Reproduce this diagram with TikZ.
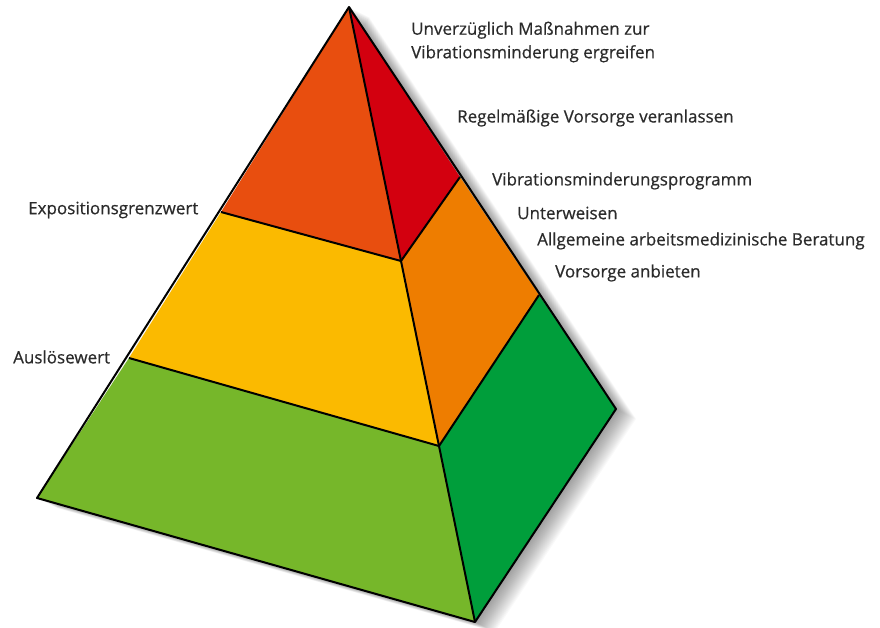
\documentclass[tikz,border=0pt]{standalone}
\usepackage{fontspec}
\setmainfont{Open Sans}[FakeBold=0.6]
\definecolor{cTopL}{HTML}{E84E0F}
\definecolor{cTopR}{HTML}{D3000F}
\definecolor{cMidL}{HTML}{FBBA00}
\definecolor{cMidR}{HTML}{EE7D00}
\definecolor{cBotL}{HTML}{76B72A}
\definecolor{cBotR}{HTML}{009E3B}
\definecolor{txt}{HTML}{2B2B2B}
\begin{document}
\begin{tikzpicture}[x=1pt,y=-1pt,
  face/.style={draw=black,line width=2pt,line join=round},
  lbl/.style={anchor=west,inner sep=0pt,text=txt,font=\fontsize{17}{23.5}\selectfont,align=left}]
\useasboundingbox (0,0) rectangle (880,627);
% key points
\coordinate (A) at (349,7);
\coordinate (L1) at (221,212);
\coordinate (L2) at (129,358);
\coordinate (L3) at (37,498);
\coordinate (M1) at (401,261);
\coordinate (M2) at (439,446);
\coordinate (M3) at (475,622);
\coordinate (R1) at (460,177);
\coordinate (R2) at (539,295);
\coordinate (R3) at (616,409);
% soft shadow
\foreach \i in {1,...,20}{
  \fill[black,opacity=0.022] ([shift={(\i*1.0,\i*0.5)}]A) -- ([shift={(\i*1.0,\i*0.5)}]R3) -- ([shift={(\i*1.0,\i*0.5)}]M3) -- ([shift={(\i*1.0,\i*0.5)}]L3) -- cycle;
}
% faces
\fill[cTopL] (A) -- (L1) -- (M1) -- cycle;
\fill[cTopR] (A) -- (M1) -- (R1) -- cycle;
\fill[cMidL] (L1) -- (L2) -- (M2) -- (M1) -- cycle;
\fill[cMidR] (M1) -- (M2) -- (R2) -- (R1) -- cycle;
\fill[cBotL] (L2) -- (L3) -- (M3) -- (M2) -- cycle;
\fill[cBotR] (M2) -- (M3) -- (R3) -- (R2) -- cycle;
% edges
\draw[face] (A) -- (L3) -- (M3) -- (R3) -- cycle;
\draw[face] (A) -- (M1) -- (M2) -- (M3);
\draw[face] (L1) -- (M1) -- (R1);
\draw[face] (L2) -- (M2) -- (R2);
% labels
\node[lbl] (t1) at (411,42) {Unverzüglich Maßnahmen zur\\Vibrationsminderung ergreifen};
\node[lbl] (t2) at (457,118) {Regelmäßige Vorsorge veranlassen};
\node[lbl] (t3) at (492,181) {Vibrationsminderungsprogramm};
\node[lbl] (t4) at (517,213) {Unterweisen};
\node[lbl] (t5) at (537,241) {Allgemeine arbeitsmedizinische Beratung};
\node[lbl] (t6) at (555,273) {Vorsorge anbieten};
\node[lbl] (t7) at (28,210) {Expositionsgrenzwert};
\node[lbl] (t8) at (13,357) {Auslösewert};
\end{tikzpicture}
\end{document}
